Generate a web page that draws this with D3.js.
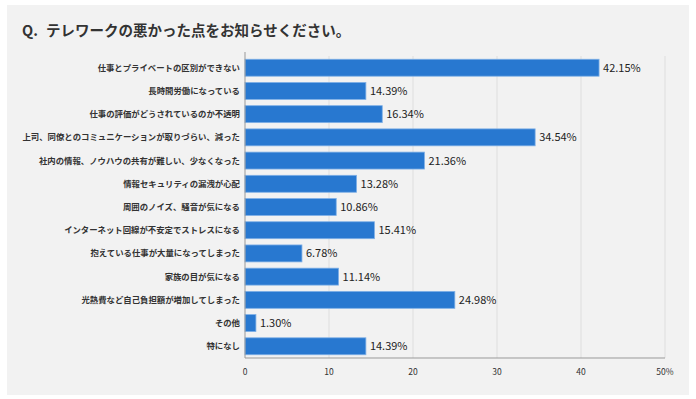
<!DOCTYPE html>
<html>
<head>
<meta charset="utf-8">
<script src="https://cdn.jsdelivr.net/npm/d3@7"></script>
<style>
  body { margin: 0; background: #fff; }
  svg text { font-family: "Noto Sans CJK JP", "Noto Sans", sans-serif; }
</style>
</head>
<body>
<div id="chart"></div>
<script>
const categories = [
  '仕事とプライベートの区別ができない',
  '長時間労働になっている',
  '仕事の評価がどうされているのか不透明',
  '上司、同僚とのコミュニケーションが取りづらい、減った',
  '社内の情報、ノウハウの共有が難しい、少なくなった',
  '情報セキュリティの漏洩が心配',
  '周囲のノイズ、騒音が気になる',
  'インターネット回線が不安定でストレスになる',
  '抱えている仕事が大量になってしまった',
  '家族の目が気になる',
  '光熱費など自己負担額が増加してしまった',
  'その他',
  '特になし'
];
const values = [42.15, 14.39, 16.34, 34.54, 21.36, 13.28, 10.86, 15.41, 6.78, 11.14, 24.98, 1.30, 14.39];
const ticks = [0, 10, 20, 30, 40, 50];
const titlePrefix = 'Q.';
const title = 'テレワークの悪かった点をお知らせください。';

const width = 696;
const height = 399;
const margin = { top: 56, right: 31, bottom: 41, left: 245 };

const svg = d3.select('#chart').append('svg')
  .attr('width', width)
  .attr('height', height);

// panel
svg.append('rect')
  .attr('x', 7).attr('y', 5)
  .attr('width', 682).attr('height', 390)
  .attr('fill', '#f2f2f2');

svg.append('text')
  .attr('x', 22).attr('y', 36)
  .attr('font-size', 14.5)
  .attr('font-weight', 'bold')
  .attr('fill', '#333')
  .text(titlePrefix);
svg.append('text')
  .attr('x', 46).attr('y', 36)
  .attr('font-size', 14.5)
  .attr('font-weight', 'bold')
  .attr('fill', '#333')
  .text(title);

const xScale = d3.scaleLinear()
  .domain([0, 50])
  .range([margin.left, width - margin.right]);

const yScale = d3.scaleBand()
  .domain(categories)
  .range([margin.top, height - margin.bottom])
  .paddingInner(0.27)
  .paddingOuter(0.14);

const g = svg.append('g');

// grid
g.selectAll('.grid')
  .data(ticks.slice(1))
  .enter().append('line')
  .attr('x1', d => xScale(d)).attr('x2', d => xScale(d))
  .attr('y1', margin.top).attr('y2', height - margin.bottom)
  .attr('stroke', '#dedede')
  .attr('stroke-width', 1);

// bars
g.selectAll('.bar')
  .data(values)
  .enter().append('rect')
  .attr('x', xScale(0))
  .attr('y', (d, i) => yScale(categories[i]))
  .attr('width', d => xScale(d) - xScale(0))
  .attr('height', yScale.bandwidth())
  .attr('fill', '#2878d0')
  .attr('stroke', '#7fb0e6')
  .attr('stroke-width', 0.8);

// value labels
g.selectAll('.val')
  .data(values)
  .enter().append('text')
  .attr('x', d => xScale(d) + 4)
  .attr('y', (d, i) => yScale(categories[i]) + yScale.bandwidth() / 2)
  .attr('dy', '0.36em')
  .attr('font-size', 11)
  .attr('fill', '#222')
  .text(d => d.toFixed(2) + '%');

// category labels
g.selectAll('.cat')
  .data(categories)
  .enter().append('text')
  .attr('x', margin.left - 5)
  .attr('y', d => yScale(d) + yScale.bandwidth() / 2)
  .attr('dy', '0.36em')
  .attr('text-anchor', 'end')
  .attr('font-size', 8.4)
  .attr('font-weight', 'bold')
  .attr('fill', '#333')
  .text(d => d);

// axes lines
g.append('line')
  .attr('x1', xScale(0)).attr('x2', xScale(0))
  .attr('y1', margin.top - 4).attr('y2', height - margin.bottom)
  .attr('stroke', '#999');
g.append('line')
  .attr('x1', xScale(0)).attr('x2', xScale(50))
  .attr('y1', height - margin.bottom).attr('y2', height - margin.bottom)
  .attr('stroke', '#999');

// tick labels
g.selectAll('.tick')
  .data(ticks)
  .enter().append('text')
  .attr('x', d => xScale(d))
  .attr('y', height - margin.bottom + 17)
  .attr('text-anchor', 'middle')
  .attr('font-size', 8.5)
  .attr('fill', '#333')
  .text(d => d === 50 ? '50%' : d);
</script>
</body>
</html>
